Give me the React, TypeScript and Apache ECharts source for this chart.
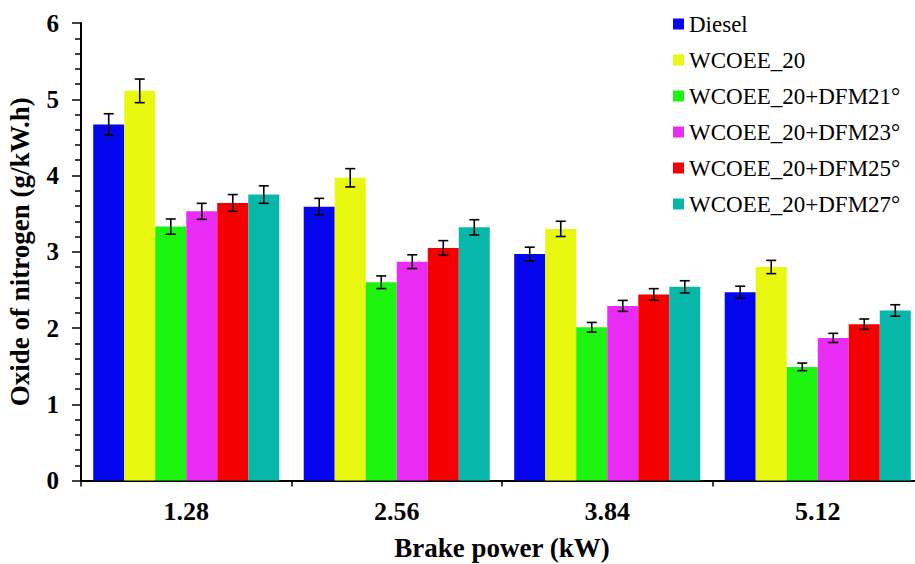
import React, { useEffect, useRef } from "react";
import * as echarts from "echarts";

const categories = ["1.28", "2.56", "3.84", "5.12"];
const seriesNames = [
  "Diesel",
  "WCOEE_20",
  "WCOEE_20+DFM21°",
  "WCOEE_20+DFM23°",
  "WCOEE_20+DFM25°",
  "WCOEE_20+DFM27°",
];
const colors = ["#0606ee", "#e8f810", "#1df510", "#e82cf5", "#f50000", "#07b8aa"];

const diesel = [4.67, 3.59, 2.97, 2.47];
const wcoee20 = [5.11, 3.97, 3.3, 2.8];
const dfm21 = [3.33, 2.6, 2.01, 1.49];
const dfm23 = [3.53, 2.87, 2.29, 1.87];
const dfm25 = [3.64, 3.05, 2.44, 2.05];
const dfm27 = [3.75, 3.32, 2.54, 2.23];

const dieselErr = [0.14, 0.11, 0.09, 0.078];
const wcoee20Err = [0.155, 0.12, 0.1, 0.087];
const dfm21Err = [0.1, 0.083, 0.063, 0.05];
const dfm23Err = [0.105, 0.09, 0.072, 0.06];
const dfm25Err = [0.11, 0.096, 0.076, 0.068];
const dfm27Err = [0.115, 0.1, 0.08, 0.075];

const values = [diesel, wcoee20, dfm21, dfm23, dfm25, dfm27];
const errors = [dieselErr, wcoee20Err, dfm21Err, dfm23Err, dfm25Err, dfm27Err];

const FONT = "Liberation Serif, serif";
const CAT_GAP = 0.116;

export default function App() {
  const ref = useRef<HTMLDivElement>(null);
  useEffect(() => {
    if (!ref.current) return;
    const chart = echarts.init(ref.current, null, { renderer: "svg" });
    const n = seriesNames.length;

    const barSeries = seriesNames.map((name, i) => ({
      name,
      type: "bar",
      data: values[i],
      barGap: "0%",
      barCategoryGap: CAT_GAP * 100 + "%",
      itemStyle: { color: colors[i] },
      xAxisIndex: 0,
      yAxisIndex: 0,
    }));

    const errSeries = seriesNames.map((name, i) => ({
      name: name + "_err",
      type: "custom",
      xAxisIndex: 0,
      yAxisIndex: 0,
      z: 10,
      data: values[i].map((v, k) => [k, v, errors[i][k]]),
      encode: { x: 0, y: 1 },
      renderItem: (params: any, api: any) => {
        const k = api.value(0);
        const v = api.value(1);
        const e = api.value(2);
        const catW = api.size([1, 0])[0];
        const barW = (catW * (1 - CAT_GAP)) / n;
        const c = api.coord([k, v]);
        const x = c[0] + (i - (n - 1) / 2) * barW;
        const top = api.coord([k, v + e])[1];
        const bot = api.coord([k, v - e])[1];
        const cap = 5;
        const style = { stroke: "#000", lineWidth: 1.6 };
        return {
          type: "group",
          children: [
            { type: "line", shape: { x1: x, y1: top, x2: x, y2: bot }, style },
            { type: "line", shape: { x1: x - cap, y1: top, x2: x + cap, y2: top }, style },
            { type: "line", shape: { x1: x - cap, y1: bot, x2: x + cap, y2: bot }, style },
          ],
        };
      },
    }));

    chart.setOption({
      animation: false,
      textStyle: { fontFamily: FONT },
      grid: {
        left: 81,
        right: -8,
        top: 23,
        bottom: 83.5,
        containLabel: false,
        outerBoundsMode: "none",
      },
      legend: {
        data: seriesNames,
        orient: "vertical",
        left: 668,
        top: 7,
        icon: "rect",
        itemWidth: 11,
        itemHeight: 11,
        itemGap: 12,
        textStyle: { fontFamily: FONT, fontSize: 23, color: "#000", lineHeight: 24 },
      },
      xAxis: [
        {
          type: "category",
          data: categories,
          position: "bottom",
          axisLine: { lineStyle: { color: "#000", width: 2 } },
          axisTick: { alignWithLabel: true, length: 6, lineStyle: { color: "#000", width: 1.5 } },
          axisLabel: {
            fontFamily: FONT,
            fontSize: 26,
            fontWeight: "bold",
            color: "#000",
            margin: 18,
          },
          name: "Brake power (kW)",
          nameLocation: "middle",
          nameGap: 54,
          nameTextStyle: { fontFamily: FONT, fontSize: 27, fontWeight: "bold", color: "#000" },
        },
        {
          type: "category",
          data: categories,
          position: "bottom",
          axisLine: { show: false },
          axisTick: { show: true, length: 6, lineStyle: { color: "#000", width: 1.5 } },
          axisLabel: { show: false },
        },
      ],
      yAxis: {
        type: "value",
        min: 0,
        max: 6,
        interval: 1,
        splitLine: { show: false },
        axisLine: { show: true, lineStyle: { color: "#000", width: 2 } },
        axisTick: { show: true, length: 9, lineStyle: { color: "#000", width: 1.5 } },
        minorTick: { show: true, splitNumber: 5, length: 6, lineStyle: { color: "#000", width: 1.5 } },
        axisLabel: {
          fontFamily: FONT,
          fontSize: 25,
          fontWeight: "bold",
          color: "#000",
          margin: 22,
        },
        name: "Oxide of nitrogen (g/kW.h)",
        nameLocation: "middle",
        nameGap: 48,
        nameTextStyle: { fontFamily: FONT, fontSize: 27, fontWeight: "bold", color: "#000" },
      },
      series: [...barSeries, ...errSeries],
    });
    return () => chart.dispose();
  }, []);
  return (
    <div
      ref={ref}
      style={{ position: "fixed", left: 0, top: 0, width: 915, height: 564, background: "#fff" }}
    />
  );
}
